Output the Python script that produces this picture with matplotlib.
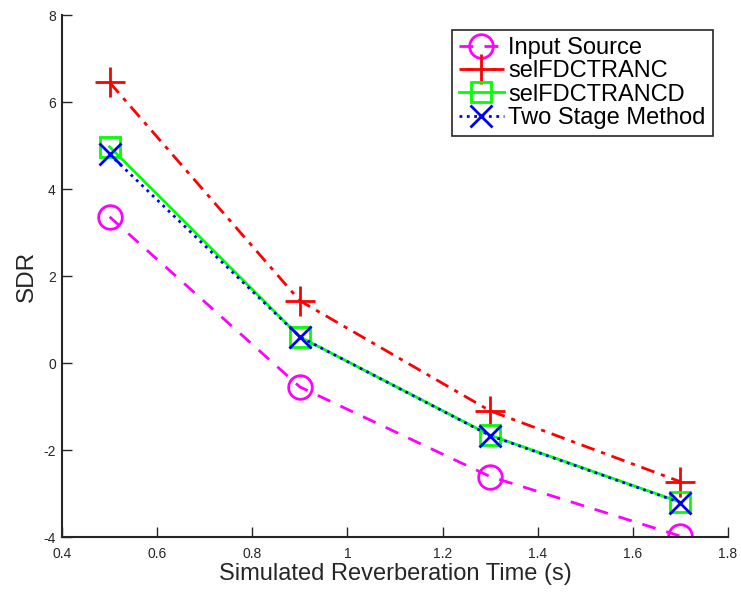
import matplotlib
matplotlib.use("Agg")
import matplotlib.pyplot as plt

plt.rcParams['font.family'] = ['Liberation Sans', 'DejaVu Sans']
plt.rcParams['axes.unicode_minus'] = False

x_vals = [0.5, 0.9, 1.3, 1.7]
input_source = [3.36, -0.55, -2.61, -3.98]
selfdctranc = [6.45, 1.43, -1.10, -2.73]
selfdctrancd = [4.97, 0.60, -1.66, -3.20]
two_stage = [4.80, 0.60, -1.67, -3.21]
labels = ["Input Source", "selFDCTRANC", "selFDCTRANCD", "Two Stage Method"]
x_ticks = [0.4, 0.6, 0.8, 1.0, 1.2, 1.4, 1.6, 1.8]
x_ticklabels = ["0.4", "0.6", "0.8", "1", "1.2", "1.4", "1.6", "1.8"]
y_ticks = [-4, -2, 0, 2, 4, 6, 8]

fig = plt.figure(figsize=(7.41, 5.93), dpi=100)
ax = fig.add_axes([0.0837, 0.0944, 0.8988, 0.8803])

ax.plot(x_vals, input_source, color='#ff00ff', linestyle='--', linewidth=2,
        marker='o', markersize=17, markerfacecolor='none', markeredgewidth=2,
        label=labels[0], dashes=(5, 4))
ax.plot(x_vals, selfdctranc, color='#ff0000', linestyle='-.', linewidth=2,
        marker='+', markersize=21, markeredgewidth=2, label=labels[1],
        dashes=(5, 2.5, 1.5, 2.5))
ax.plot(x_vals, selfdctrancd, color='#00ff00', linestyle='-', linewidth=2,
        marker='s', markersize=15, markerfacecolor='none', markeredgewidth=2,
        label=labels[2])
ax.plot(x_vals, two_stage, color='#0000ff', linestyle=':', linewidth=2,
        marker='x', markersize=16, markeredgewidth=2, label=labels[3])

ax.set_xlim(0.4, 1.8)
ax.set_ylim(-4, 8)
ax.set_xticks(x_ticks)
ax.set_xticklabels(x_ticklabels)
ax.set_yticks(y_ticks)
for s in ['top', 'right']:
    ax.spines[s].set_visible(False)
for s in ['left', 'bottom']:
    ax.spines[s].set_color('#262626')
    ax.spines[s].set_linewidth(1.5)
ax.tick_params(direction='in', length=7, width=1, colors='#262626', labelsize=10)
ax.tick_params(axis='x', pad=7.5)
ax.tick_params(axis='y', pad=4.5)
ax.set_xlabel("Simulated Reverberation Time (s)", fontsize=17, color='#262626', labelpad=1)
ax.set_ylabel("SDR", fontsize=17.5, color='#262626', labelpad=4)

leg = ax.legend(loc='upper right', bbox_to_anchor=(0.977, 0.971), borderaxespad=0,
                fontsize=17, fancybox=False, edgecolor='#262626', framealpha=1,
                handlelength=1.9, handletextpad=0.2, labelspacing=0.05,
                borderpad=0.3)
leg.get_frame().set_linewidth(1.2)

fig.savefig("out.png", dpi=100)
